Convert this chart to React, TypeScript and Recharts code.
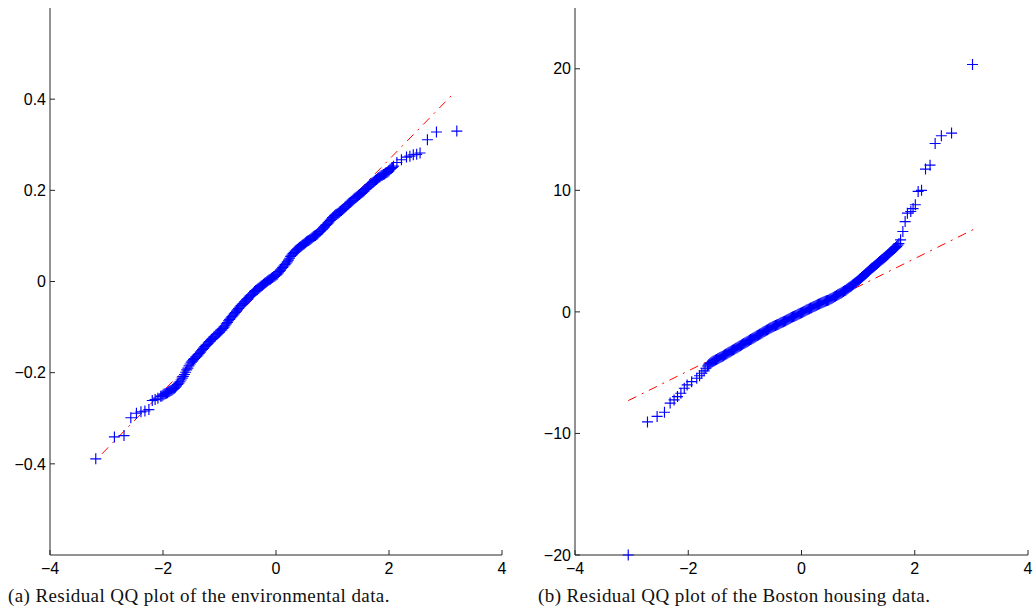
import React from 'react';
import { ScatterChart, Scatter, XAxis, YAxis } from 'recharts';

// (a) environmental data: [theoretical quantile, residual quantile]
const envPoints: [number, number][] = [
  [-3.19, -0.389], [-2.86, -0.341], [-2.69, -0.338], [-2.57, -0.299], [-2.47, -0.289],
  [-2.39, -0.286], [-2.32, -0.284], [-2.25, -0.281], [-2.19, -0.261], [-2.14, -0.259],
  [-2.09, -0.256],
  [-2.04, -0.252], [-2.02, -0.251], [-2.0, -0.249], [-1.98, -0.247], [-1.96, -0.246],
  [-1.94, -0.245], [-1.92, -0.244], [-1.9, -0.242], [-1.88, -0.241], [-1.86, -0.239],
  [-1.84, -0.238], [-1.82, -0.236], [-1.8, -0.234], [-1.78, -0.232], [-1.76, -0.229],
  [-1.74, -0.226], [-1.72, -0.223], [-1.7, -0.22], [-1.68, -0.216], [-1.66, -0.212],
  [-1.64, -0.208], [-1.62, -0.204], [-1.6, -0.199], [-1.58, -0.194], [-1.56, -0.19],
  [-1.54, -0.185], [-1.52, -0.181], [-1.5, -0.177], [-1.48, -0.174], [-1.46, -0.171],
  [-1.44, -0.169], [-1.42, -0.166], [-1.4, -0.164], [-1.38, -0.161], [-1.36, -0.158],
  [-1.34, -0.155], [-1.32, -0.152], [-1.3, -0.149], [-1.28, -0.146], [-1.26, -0.143],
  [-1.24, -0.14], [-1.22, -0.138], [-1.2, -0.135], [-1.18, -0.132], [-1.16, -0.13],
  [-1.14, -0.127], [-1.12, -0.125], [-1.1, -0.122], [-1.08, -0.12], [-1.06, -0.117],
  [-1.04, -0.115], [-1.02, -0.113], [-1.0, -0.111], [-0.98, -0.108], [-0.96, -0.106],
  [-0.94, -0.103], [-0.92, -0.1], [-0.9, -0.097], [-0.88, -0.093], [-0.86, -0.09],
  [-0.84, -0.086], [-0.82, -0.083], [-0.8, -0.08], [-0.78, -0.077], [-0.76, -0.074],
  [-0.74, -0.071], [-0.72, -0.068], [-0.7, -0.065], [-0.68, -0.062], [-0.66, -0.059],
  [-0.64, -0.056], [-0.62, -0.053], [-0.6, -0.05], [-0.58, -0.048], [-0.56, -0.045],
  [-0.54, -0.043], [-0.52, -0.04], [-0.5, -0.038], [-0.48, -0.035], [-0.46, -0.032],
  [-0.44, -0.03], [-0.42, -0.028], [-0.4, -0.025], [-0.38, -0.022], [-0.36, -0.02],
  [-0.34, -0.018], [-0.32, -0.016], [-0.3, -0.014], [-0.28, -0.012], [-0.26, -0.01],
  [-0.24, -0.008], [-0.22, -0.006], [-0.2, -0.004], [-0.18, -0.002], [-0.16, 0.0],
  [-0.14, 0.002], [-0.12, 0.004], [-0.1, 0.005], [-0.08, 0.007], [-0.06, 0.009],
  [-0.04, 0.011], [-0.02, 0.012], [0.0, 0.014], [0.02, 0.016], [0.04, 0.019],
  [0.06, 0.022], [0.08, 0.025], [0.1, 0.028], [0.12, 0.031], [0.14, 0.034],
  [0.16, 0.037], [0.18, 0.04], [0.2, 0.043], [0.22, 0.047], [0.24, 0.051],
  [0.26, 0.055], [0.28, 0.058], [0.3, 0.061], [0.32, 0.064], [0.34, 0.067],
  [0.36, 0.069], [0.38, 0.071], [0.4, 0.073], [0.42, 0.075], [0.44, 0.077],
  [0.46, 0.079], [0.48, 0.081], [0.5, 0.083], [0.52, 0.085], [0.54, 0.087],
  [0.56, 0.089], [0.58, 0.09], [0.6, 0.092], [0.62, 0.094], [0.64, 0.096],
  [0.66, 0.098], [0.68, 0.1], [0.7, 0.101], [0.72, 0.103], [0.74, 0.105],
  [0.76, 0.108], [0.78, 0.11], [0.8, 0.113], [0.82, 0.115], [0.84, 0.118],
  [0.86, 0.12], [0.88, 0.123], [0.9, 0.125], [0.92, 0.128], [0.94, 0.131],
  [0.96, 0.134], [0.98, 0.137], [1.0, 0.14], [1.02, 0.142], [1.04, 0.145],
  [1.06, 0.147], [1.08, 0.148], [1.1, 0.15], [1.12, 0.152], [1.14, 0.154],
  [1.16, 0.156], [1.18, 0.158], [1.2, 0.16], [1.22, 0.163], [1.24, 0.165],
  [1.26, 0.168], [1.28, 0.17], [1.3, 0.172], [1.32, 0.174], [1.34, 0.176],
  [1.36, 0.178], [1.38, 0.181], [1.4, 0.183], [1.42, 0.185], [1.44, 0.187],
  [1.46, 0.189], [1.48, 0.191], [1.5, 0.193], [1.52, 0.195], [1.54, 0.197],
  [1.56, 0.199], [1.58, 0.202], [1.6, 0.204], [1.62, 0.207], [1.64, 0.209],
  [1.66, 0.212], [1.68, 0.214], [1.7, 0.216], [1.72, 0.218], [1.74, 0.22],
  [1.76, 0.222], [1.78, 0.224], [1.8, 0.226], [1.82, 0.228], [1.84, 0.23],
  [1.86, 0.232], [1.88, 0.233], [1.9, 0.235], [1.92, 0.236], [1.94, 0.238],
  [1.96, 0.239], [1.98, 0.241], [2.0, 0.243], [2.02, 0.246], [2.04, 0.248],
  [2.06, 0.25], [2.08, 0.253],
  [2.14, 0.261], [2.22, 0.267], [2.31, 0.273], [2.37, 0.275], [2.43, 0.278],
  [2.49, 0.279], [2.55, 0.282], [2.68, 0.311], [2.84, 0.328], [3.2, 0.33],
];
const envFit: [number, number][] = [[-3.08, -0.378], [3.13, 0.411]];
const envYTicks = [-0.4, -0.2, 0, 0.2, 0.4];

// (b) Boston housing data
const bostonPoints: [number, number][] = [
  [-3.06, -20.0], [-2.72, -9.05], [-2.55, -8.6], [-2.42, -8.26], [-2.32, -7.5],
  [-2.25, -7.24], [-2.19, -6.97], [-2.13, -6.69], [-2.07, -6.28], [-2.02, -6.01],
  [-1.94, -5.74], [-1.85, -5.46], [-1.8, -5.25], [-1.76, -5.05], [-1.72, -4.85],
  [-1.69, -4.64],
  [-1.66, -4.45], [-1.64, -4.35], [-1.62, -4.26], [-1.6, -4.18], [-1.58, -4.12],
  [-1.56, -4.06], [-1.54, -4.01], [-1.52, -3.96], [-1.5, -3.91], [-1.48, -3.86],
  [-1.46, -3.81], [-1.44, -3.76], [-1.42, -3.71], [-1.4, -3.66], [-1.38, -3.6],
  [-1.36, -3.55], [-1.34, -3.49], [-1.32, -3.44], [-1.3, -3.38], [-1.28, -3.33],
  [-1.26, -3.27], [-1.24, -3.22], [-1.22, -3.16], [-1.2, -3.11], [-1.18, -3.05],
  [-1.16, -3.0], [-1.14, -2.94], [-1.12, -2.89], [-1.1, -2.83], [-1.08, -2.78],
  [-1.06, -2.72], [-1.04, -2.67], [-1.02, -2.61], [-1.0, -2.56], [-0.98, -2.5],
  [-0.96, -2.45], [-0.94, -2.39], [-0.92, -2.34], [-0.9, -2.28], [-0.88, -2.23],
  [-0.86, -2.17], [-0.84, -2.12], [-0.82, -2.06], [-0.8, -2.01], [-0.78, -1.95],
  [-0.76, -1.9], [-0.74, -1.84], [-0.72, -1.79], [-0.7, -1.73], [-0.68, -1.68],
  [-0.66, -1.62], [-0.64, -1.57], [-0.62, -1.51], [-0.6, -1.46], [-0.58, -1.4],
  [-0.56, -1.35], [-0.54, -1.3], [-0.52, -1.26], [-0.5, -1.21], [-0.48, -1.17],
  [-0.46, -1.12], [-0.44, -1.08], [-0.42, -1.03], [-0.4, -0.99], [-0.38, -0.94],
  [-0.36, -0.9], [-0.34, -0.85], [-0.32, -0.81], [-0.3, -0.76], [-0.28, -0.72],
  [-0.26, -0.67], [-0.24, -0.62], [-0.22, -0.57], [-0.2, -0.52], [-0.18, -0.47],
  [-0.16, -0.43], [-0.14, -0.38], [-0.12, -0.34], [-0.1, -0.29], [-0.08, -0.25],
  [-0.06, -0.2], [-0.04, -0.16], [-0.02, -0.11], [0.0, -0.07], [0.02, -0.02],
  [0.04, 0.03], [0.06, 0.08], [0.08, 0.13], [0.1, 0.17], [0.12, 0.22],
  [0.14, 0.26], [0.16, 0.31], [0.18, 0.35], [0.2, 0.4], [0.22, 0.44],
  [0.24, 0.49], [0.26, 0.53], [0.28, 0.58], [0.3, 0.62], [0.32, 0.67],
  [0.34, 0.71], [0.36, 0.75], [0.38, 0.79], [0.4, 0.83], [0.42, 0.87],
  [0.44, 0.91], [0.46, 0.94], [0.48, 0.98], [0.5, 1.03], [0.52, 1.08],
  [0.54, 1.13], [0.56, 1.19], [0.58, 1.24], [0.6, 1.29], [0.62, 1.35],
  [0.64, 1.4], [0.66, 1.45], [0.68, 1.51], [0.7, 1.56], [0.72, 1.62],
  [0.74, 1.67], [0.76, 1.73], [0.78, 1.79], [0.8, 1.86], [0.82, 1.93],
  [0.84, 2.0], [0.86, 2.07], [0.88, 2.14], [0.9, 2.21], [0.92, 2.28],
  [0.94, 2.35], [0.96, 2.42], [0.98, 2.5], [1.0, 2.58], [1.02, 2.66],
  [1.04, 2.74], [1.06, 2.82], [1.08, 2.91], [1.1, 2.99], [1.12, 3.08],
  [1.14, 3.16], [1.16, 3.25], [1.18, 3.33], [1.2, 3.42], [1.22, 3.5],
  [1.24, 3.58], [1.26, 3.66], [1.28, 3.74], [1.3, 3.82], [1.32, 3.9],
  [1.34, 3.98], [1.36, 4.06], [1.38, 4.14], [1.4, 4.22], [1.42, 4.3],
  [1.44, 4.38], [1.46, 4.46], [1.48, 4.54], [1.5, 4.62], [1.52, 4.71],
  [1.54, 4.79], [1.56, 4.88], [1.58, 4.96], [1.6, 5.05], [1.62, 5.13],
  [1.64, 5.21], [1.66, 5.29], [1.68, 5.37], [1.7, 5.49], [1.72, 5.62],
  [1.75, 5.93], [1.79, 6.61], [1.83, 7.43], [1.87, 8.12], [1.93, 8.26],
  [1.97, 8.5], [2.01, 8.81], [2.06, 9.91], [2.12, 10.0], [2.19, 11.75],
  [2.27, 12.07], [2.36, 13.85], [2.47, 14.49], [2.65, 14.71], [3.02, 20.35],
];
const bostonFit: [number, number][] = [[-3.06, -7.3], [3.05, 6.81]];
const bostonYTicks = [-20, -10, 0, 10, 20];

const xTicks = [-4, -2, 0, 2, 4];

const toPts = (a: [number, number][]) => a.map(([x, y]) => ({ x, y }));

const fmt = (v: number) => (v < 0 ? '\u2212' + String(-v) : String(v));

const Plus = (props: any) => {
  const { cx, cy } = props;
  if (cx == null || cy == null) return <g />;
  return (
    <path
      d={`M${cx - 5.5},${cy}h11M${cx},${cy - 5.5}v11`}
      stroke="#0000ff"
      strokeWidth={1.15}
      fill="none"
    />
  );
};

const axisColor = '#262626';
const tickStyle = { fill: '#000', fontSize: 16, fontFamily: '"Liberation Sans", Arial, sans-serif' };

function QQPanel({
  points,
  fit,
  yDomain,
  yTicks,
  width,
  yAxisWidth,
  right,
}: {
  points: [number, number][];
  fit: [number, number][];
  yDomain: [number, number];
  yTicks: number[];
  width: number;
  yAxisWidth: number;
  right: number;
}) {
  return (
    <ScatterChart width={width} height={611} margin={{ top: 8, right, bottom: 26, left: 0 }}>
      <XAxis
        type="number"
        dataKey="x"
        domain={[-4, 4]}
        ticks={xTicks}
        interval={0}
        tickFormatter={fmt}
        height={30}
        tickSize={-5}
        tickMargin={13}
        axisLine={{ stroke: axisColor }}
        tickLine={{ stroke: axisColor }}
        tick={tickStyle}
      />
      <YAxis
        type="number"
        dataKey="y"
        domain={yDomain}
        ticks={yTicks}
        interval={0}
        tickFormatter={fmt}
        width={yAxisWidth}
        tickSize={-5}
        tickMargin={9}
        axisLine={{ stroke: axisColor }}
        tickLine={{ stroke: axisColor }}
        tick={tickStyle}
      />
      <Scatter
        data={toPts(fit)}
        line={{ stroke: '#ff0000', strokeWidth: 1, strokeDasharray: '9 6 2 6' }}
        shape={() => <g />}
        isAnimationActive={false}
      />
      <Scatter data={toPts(points)} shape={<Plus />} isAnimationActive={false} />
    </ScatterChart>
  );
}

const captionStyle: React.CSSProperties = {
  position: 'absolute',
  top: 585,
  fontFamily: '"Liberation Serif", "Times New Roman", serif',
  fontSize: 19,
  lineHeight: '22px',
  letterSpacing: '0.4px',
  color: '#111',
  whiteSpace: 'nowrap',
};

export default function App() {
  return (
    <div style={{ position: 'absolute', left: 0, top: 0, width: 1035, height: 611, background: '#fff' }}>
      <div style={{ position: 'absolute', left: 0, top: 0 }}>
        <QQPanel
          points={envPoints}
          fit={envFit}
          yDomain={[-0.6, 0.6]}
          yTicks={envYTicks}
          width={515}
          yAxisWidth={50}
          right={13}
        />
      </div>
      <div style={{ position: 'absolute', left: 515, top: 0 }}>
        <QQPanel
          points={bostonPoints}
          fit={bostonFit}
          yDomain={[-20, 25]}
          yTicks={bostonYTicks}
          width={520}
          yAxisWidth={60}
          right={7}
        />
      </div>
      <div style={{ ...captionStyle, left: 8 }}>(a) Residual QQ plot of the environmental data.</div>
      <div style={{ ...captionStyle, left: 538 }}>(b) Residual QQ plot of the Boston housing data.</div>
    </div>
  );
}
